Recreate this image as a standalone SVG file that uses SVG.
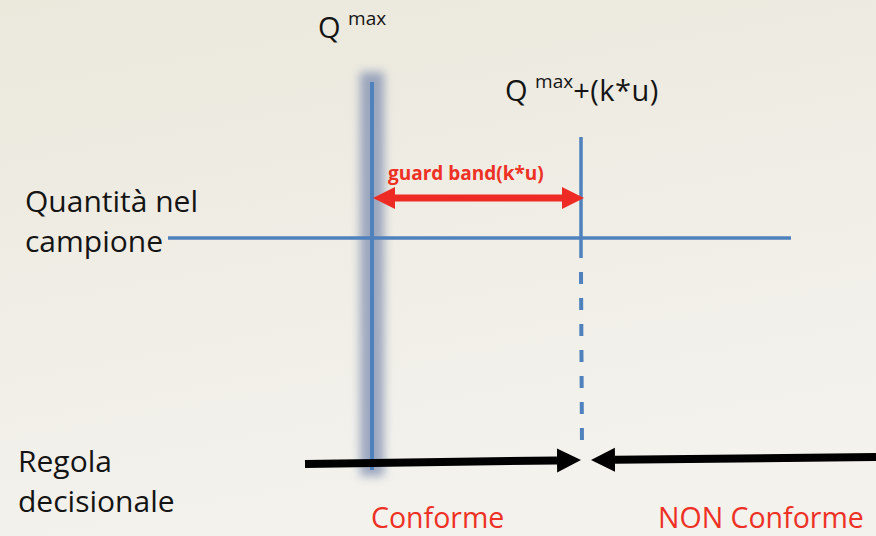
<svg xmlns="http://www.w3.org/2000/svg" width="876" height="536" viewBox="0 0 876 536">
  <defs>
    <linearGradient id="bg" x1="0" y1="0" x2="0.3" y2="1">
      <stop offset="0" stop-color="#EBE8DC"/>
      <stop offset="1" stop-color="#F3F2ED"/>
    </linearGradient>
    <filter id="halo" x="-150%" y="-10%" width="400%" height="120%">
      <feGaussianBlur stdDeviation="5"/>
    </filter>
    <marker id="redHead" markerUnits="userSpaceOnUse" markerWidth="24" markerHeight="24" refX="0" refY="11" orient="auto-start-reverse" viewBox="0 0 24 22">
      <path d="M0,0 L22,11 L0,22 z" fill="#EE2A24"/>
    </marker>
    <marker id="blackHead" markerUnits="userSpaceOnUse" markerWidth="26" markerHeight="26" refX="0" refY="12" orient="auto" viewBox="0 0 26 24">
      <path d="M0,0 L24,12 L0,24 z" fill="#000"/>
    </marker>
    <style>
      .lbl { font-family: "Open Sans", "Liberation Sans", sans-serif; fill: #141414; }
      .red { font-family: "Open Sans", "Liberation Sans", sans-serif; fill: #EE3124; }
      .blue { stroke: #4F81BD; fill: none; }
    </style>
  </defs>

  <rect x="0" y="0" width="876" height="536" fill="url(#bg)"/>

  <g id="qmax-line">
    <rect x="360" y="72" width="24" height="404" fill="#7888AD" opacity="0.7" filter="url(#halo)"/>
    <line class="blue" x1="372" y1="82" x2="372" y2="470" stroke-width="4"/>
  </g>

  <g id="connectors">
    <line class="blue" x1="168" y1="238" x2="791" y2="238" stroke-width="3.5"/>
    <line class="blue" x1="581" y1="137" x2="581" y2="258" stroke-width="3.5"/>
    <line class="blue" x1="581" y1="272" x2="582" y2="448" stroke-width="4" stroke-dasharray="12 14"/>
    <line x1="395" y1="198" x2="562" y2="198" stroke="#EE2A24" stroke-width="7" marker-start="url(#redHead)" marker-end="url(#redHead)"/>
    <line x1="305" y1="464" x2="557" y2="460.4" stroke="#000" stroke-width="8" marker-end="url(#blackHead)"/>
    <line x1="876" y1="457" x2="615" y2="459.8" stroke="#000" stroke-width="8" marker-end="url(#blackHead)"/>
  </g>

  <g id="label-qmax">
    <text class="lbl" x="318" y="38" font-size="29">Q <tspan font-size="19" dy="-13">max</tspan></text>
  </g>
  <g id="label-qmax-ku">
    <text class="lbl" x="505" y="101" font-size="29">Q <tspan font-size="19" dy="-13">max</tspan><tspan dy="13" letter-spacing="0.5">+(k*u)</tspan></text>
  </g>
  <g id="label-guard">
    <text class="red" x="388" y="180" font-size="19" font-weight="bold">guard band(k*u)</text>
  </g>
  <g id="label-quantita">
    <text class="lbl" x="25" y="212" font-size="30">Quantità nel</text>
    <text class="lbl" x="25" y="252" font-size="30">campione</text>
  </g>
  <g id="label-regola">
    <text class="lbl" x="18" y="472" font-size="30">Regola</text>
    <text class="lbl" x="18" y="512" font-size="30">decisionale</text>
  </g>
  <g id="label-conforme">
    <text class="red" x="371" y="528" font-size="28.5">Conforme</text>
  </g>
  <g id="label-non-conforme">
    <text class="red" x="658" y="528" font-size="28.5">NON Conforme</text>
  </g>
</svg>
